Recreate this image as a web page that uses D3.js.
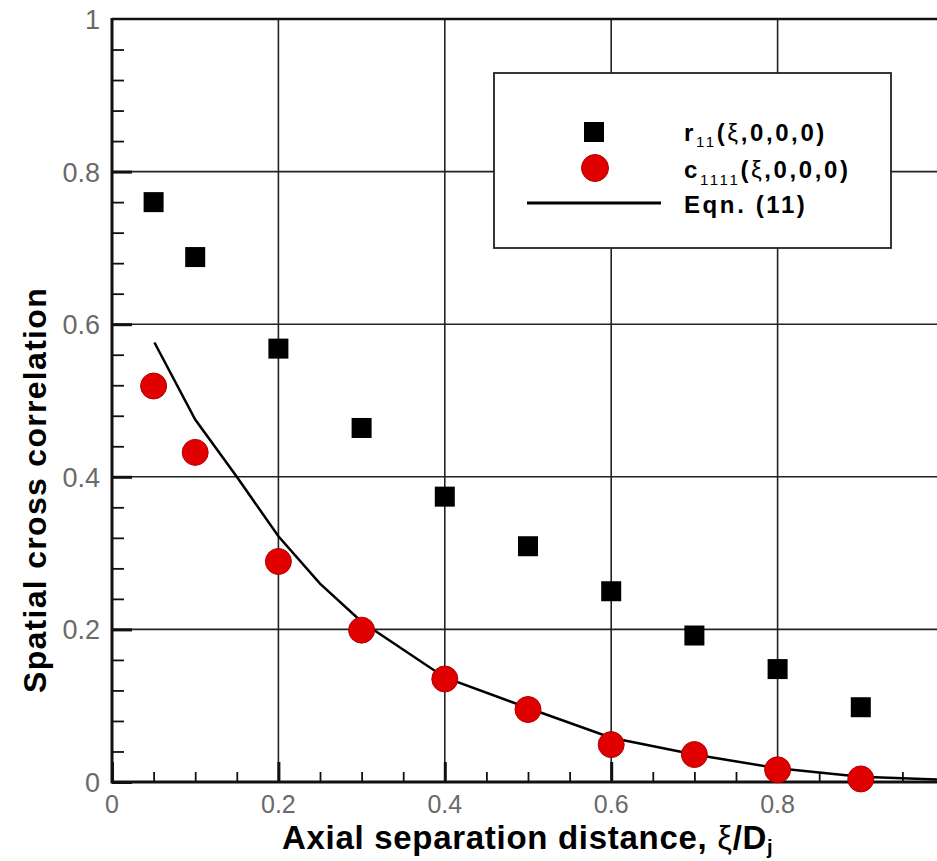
<!DOCTYPE html>
<html>
<head>
<meta charset="utf-8">
<script src="https://cdn.jsdelivr.net/npm/d3@7"></script>
<style>
  body { margin: 0; background: #fff; }
  svg { display: block; }
  text { font-family: "Liberation Sans", Arial, sans-serif; }
</style>
</head>
<body>
<svg id="chart" width="937" height="861"></svg>
<script>
// separations where the two correlations were measured
var sepX = [0.05, 0.1, 0.2, 0.3, 0.4, 0.5, 0.6, 0.7, 0.8, 0.9];
var r11 = [0.760, 0.688, 0.568, 0.464, 0.374, 0.309, 0.250, 0.192, 0.148, 0.098];
var c1111 = [0.519, 0.432, 0.289, 0.199, 0.135, 0.095, 0.049, 0.036, 0.016, 0.004];

// Eqn. (11) curve
var eqnX = [0.051, 0.1, 0.15, 0.2, 0.25, 0.3, 0.4, 0.5, 0.6, 0.7, 0.8, 0.9, 1.0];
var eqnY = [0.576, 0.475, 0.400, 0.322, 0.260, 0.210, 0.137, 0.097, 0.058, 0.036, 0.018, 0.007, 0.003];

var xTicks = [0, 0.2, 0.4, 0.6, 0.8];
var yTicks = [0, 0.2, 0.4, 0.6, 0.8, 1];

var svg = d3.select("#chart");

var x = d3.scaleLinear().domain([0, 1]).range([112, 944]);
var y = d3.scaleLinear().domain([0, 1]).range([782, 19]);

var fmt = function(d) { return d === 0 ? "0" : d === 1 ? "1" : d3.format(".1f")(d); };

// grid
svg.append("g").selectAll("line")
    .data(xTicks.slice(1))
  .enter().append("line")
    .attr("x1", d => x(d)).attr("x2", d => x(d))
    .attr("y1", y(0)).attr("y2", y(1))
    .attr("stroke", "#222").attr("stroke-width", 1.6);

svg.append("g").selectAll("line")
    .data(yTicks.slice(1, -1))
  .enter().append("line")
    .attr("x1", x(0)).attr("x2", 937)
    .attr("y1", d => y(d)).attr("y2", d => y(d))
    .attr("stroke", "#222").attr("stroke-width", 1.6);

// top frame line
svg.append("line")
    .attr("x1", x(0)).attr("x2", 937)
    .attr("y1", y(1)).attr("y2", y(1))
    .attr("stroke", "#111").attr("stroke-width", 2.5);

// axes (inward ticks, minor and major)
var xAxis = d3.axisTop(x).tickValues(d3.range(0, 0.96, 0.05)).tickSize(10).tickFormat("");
var gx = svg.append("g").attr("transform", "translate(0," + y(0) + ")").call(xAxis);
var yAxis = d3.axisRight(y).tickValues(d3.range(0, 1.0, 0.04)).tickSize(12).tickFormat("");
var gy = svg.append("g").attr("transform", "translate(" + x(0) + ",0)").call(yAxis);

[gx, gy].forEach(function(g) {
  g.select(".domain").remove();
  g.selectAll(".tick line").attr("stroke", "#111").attr("stroke-width", 1.8);
});
gx.selectAll(".tick line").filter(d => Math.abs(d * 5 - Math.round(d * 5)) < 1e-6)
    .attr("y2", -20).attr("stroke-width", 3);
gy.selectAll(".tick line").filter(d => Math.abs(d * 5 - Math.round(d * 5)) < 1e-6)
    .attr("x2", 20).attr("stroke-width", 3);

svg.append("line")
    .attr("x1", x(0)).attr("x2", 937).attr("y1", y(0)).attr("y2", y(0))
    .attr("stroke", "#111").attr("stroke-width", 3);
svg.append("line")
    .attr("x1", x(0)).attr("x2", x(0)).attr("y1", y(0) + 1.5).attr("y2", y(1) - 1)
    .attr("stroke", "#111").attr("stroke-width", 3);

// tick labels
svg.append("g").selectAll("text")
    .data(xTicks)
  .enter().append("text")
    .attr("x", d => x(d)).attr("y", 813)
    .attr("text-anchor", "middle")
    .attr("font-size", 25).attr("fill", "#6a6a6a")
    .text(fmt);

svg.append("g").selectAll("text")
    .data(yTicks)
  .enter().append("text")
    .attr("x", 100).attr("y", d => y(d) + 10)
    .attr("text-anchor", "end")
    .attr("font-size", 27).attr("fill", "#6a6a6a")
    .text(fmt);

// Eqn. (11)
var line = d3.line().x((d, i) => x(eqnX[i])).y(d => y(d));
svg.append("path")
    .datum(eqnY)
    .attr("d", line)
    .attr("fill", "none")
    .attr("stroke", "#000")
    .attr("stroke-width", 2.5);

// r11 squares
svg.append("g").selectAll("rect")
    .data(r11)
  .enter().append("rect")
    .attr("x", (d, i) => x(sepX[i]) - 10)
    .attr("y", d => y(d) - 10)
    .attr("width", 20).attr("height", 20)
    .attr("fill", "#000");

// c1111 circles
svg.append("g").selectAll("circle")
    .data(c1111)
  .enter().append("circle")
    .attr("cx", (d, i) => x(sepX[i]))
    .attr("cy", d => y(d))
    .attr("r", 13)
    .attr("fill", "#e00000")
    .attr("stroke", "#b00000").attr("stroke-width", 1);

// legend
var lg = svg.append("g").attr("transform", "translate(494,73)");
lg.append("rect")
    .attr("width", 397).attr("height", 175)
    .attr("fill", "#fff").attr("stroke", "#222").attr("stroke-width", 1.8);
lg.append("rect").attr("x", 90).attr("y", 49).attr("width", 20).attr("height", 20).attr("fill", "#000");
lg.append("circle").attr("cx", 101).attr("cy", 95).attr("r", 13.5)
    .attr("fill", "#e00000").attr("stroke", "#b00000").attr("stroke-width", 1);
lg.append("line").attr("x1", 33).attr("x2", 167).attr("y1", 130).attr("y2", 130)
    .attr("stroke", "#000").attr("stroke-width", 3);

var legendFont = 24, legendSpacing = 2.6;
var t1 = lg.append("text").attr("x", 190).attr("y", 68)
    .attr("font-size", legendFont).attr("font-weight", "bold").attr("letter-spacing", legendSpacing);
t1.append("tspan").text("r");
t1.append("tspan").attr("dy", 6).attr("font-size", 15).attr("font-weight", "normal").text("11");
t1.append("tspan").attr("dy", -6).text("(");
t1.append("tspan").attr("font-weight", "normal").text("ξ");
t1.append("tspan").text(",0,0,0)");

var t2 = lg.append("text").attr("x", 190).attr("y", 105)
    .attr("font-size", legendFont).attr("font-weight", "bold").attr("letter-spacing", legendSpacing);
t2.append("tspan").text("c");
t2.append("tspan").attr("dy", 7).attr("font-size", 15).attr("font-weight", "normal").text("1111");
t2.append("tspan").attr("dy", -7).text("(");
t2.append("tspan").attr("font-weight", "normal").text("ξ");
t2.append("tspan").text(",0,0,0)");

lg.append("text").attr("x", 190).attr("y", 140)
    .attr("font-size", legendFont).attr("font-weight", "bold").attr("letter-spacing", legendSpacing)
    .text("Eqn. (11)");

// axis titles
var xt = svg.append("text").attr("x", 282).attr("y", 849)
    .attr("font-size", 33).attr("font-weight", "bold").attr("fill", "#000")
    .attr("letter-spacing", 0.7);
xt.append("tspan").text("Axial separation distance, ");
xt.append("tspan").attr("font-weight", "normal").text("ξ");
xt.append("tspan").text("/D");
xt.append("tspan").attr("dy", 5).attr("font-size", 20).text("j");

svg.append("text")
    .attr("transform", "translate(46,490) rotate(-90)")
    .attr("text-anchor", "middle")
    .attr("font-size", 32).attr("font-weight", "bold").attr("fill", "#000")
    .attr("letter-spacing", 1.3)
    .text("Spatial cross correlation");
</script>
</body>
</html>
